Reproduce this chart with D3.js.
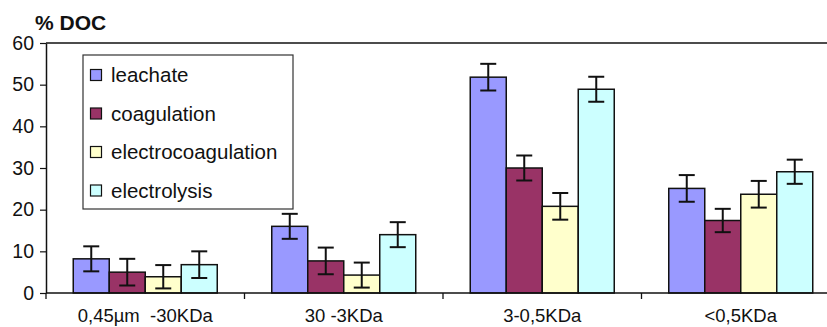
<html>
<head>
<script src="https://d3js.org/d3.v7.min.js"></script>
<style>
body { margin: 0; font-family: 'Liberation Sans', Arial, sans-serif; background: #fff; }
svg { display: block; }
</style>
</head>
<body>
<div id="chart"></div>
<script>
// fractions and treatments
var categories = ["0,45\u00b5m  -30KDa", "30 -3KDa", "3-0,5KDa", "<0,5KDa"];
var series = ["leachate", "coagulation", "electrocoagulation", "electrolysis"];
var colors = ["#9999ff", "#993366", "#ffffcc", "#ccffff"];

var leachate           = [8.2, 16.0, 51.8, 25.1];
var coagulation        = [5.0, 7.7, 30.0, 17.4];
var electrocoagulation = [3.9, 4.3, 20.8, 23.7];
var electrolysis       = [6.8, 14.0, 48.9, 29.1];

var leachateErr           = [3.0, 3.0, 3.2, 3.2];
var coagulationErr        = [3.2, 3.2, 3.0, 2.8];
var electrocoagulationErr = [2.8, 3.0, 3.2, 3.2];
var electrolysisErr       = [3.2, 3.0, 3.0, 2.9];

var yTicks = [0, 10, 20, 30, 40, 50, 60];

var values = [leachate, coagulation, electrocoagulation, electrolysis];
var errors = [leachateErr, coagulationErr, electrocoagulationErr, electrolysisErr];

var svg = d3.select("#chart").append("svg")
  .attr("width", 827).attr("height", 327);

// plot area (right edge runs past the picture, as in the original)
var pLeft = 46, pTop = 43, pBottom = 293, pRight = 840;

var x0 = d3.scaleBand().domain(categories).range([pLeft, pRight]);
var x1 = d3.scaleBand().domain(series).range([0, x0.bandwidth()]).paddingOuter(0.757);
var y = d3.scaleLinear().domain([0, 60]).range([pBottom, pTop]);

// top frame line
svg.append("line")
  .attr("x1", pLeft).attr("x2", pRight).attr("y1", pTop).attr("y2", pTop)
  .attr("stroke", "#111").attr("stroke-width", 1.5);

// y axis
var yAxis = svg.append("g")
  .attr("transform", "translate(" + pLeft + ",0)")
  .call(d3.axisLeft(y).tickValues(yTicks).tickSize(6).tickPadding(6).tickSizeOuter(0));
yAxis.select(".domain").attr("stroke", "#111").attr("stroke-width", 1.5);
yAxis.selectAll(".tick line").attr("stroke", "#111").attr("stroke-width", 1.2);
yAxis.selectAll(".tick text")
  .style("font-family", "'Liberation Sans', Arial, sans-serif")
  .style("font-size", "19.5px").attr("fill", "#111");

// bars
var groups = svg.selectAll(".grp")
  .data(categories)
  .enter().append("g")
  .attr("class", "grp")
  .attr("transform", function(d) { return "translate(" + x0(d) + ",0)"; });

groups.each(function(cat, ci) {
  var g = d3.select(this);
  series.forEach(function(s, si) {
    var v = values[si][ci], e = errors[si][ci];
    var bx = x1(s), bw = x1.bandwidth();
    g.append("rect")
      .attr("x", bx).attr("y", y(v))
      .attr("width", bw).attr("height", y(0) - y(v))
      .attr("fill", colors[si])
      .attr("stroke", "#111").attr("stroke-width", 1.5);
    var cx = bx + bw / 2;
    g.append("line")
      .attr("x1", cx).attr("x2", cx).attr("y1", y(v + e)).attr("y2", y(v - e))
      .attr("stroke", "#111").attr("stroke-width", 2);
    [v + e, v - e].forEach(function(t) {
      g.append("line")
        .attr("x1", cx - 8).attr("x2", cx + 8).attr("y1", y(t)).attr("y2", y(t))
        .attr("stroke", "#111").attr("stroke-width", 2);
    });
  });
});

// x axis with ticks between categories (first one is the y axis itself)
svg.append("line")
  .attr("x1", pLeft).attr("x2", pRight).attr("y1", pBottom).attr("y2", pBottom)
  .attr("stroke", "#111").attr("stroke-width", 1.5);
svg.selectAll(".ctick")
  .data(categories)
  .enter().append("line")
  .attr("x1", function(d) { return x0(d); }).attr("x2", function(d) { return x0(d); })
  .attr("y1", pBottom).attr("y2", pBottom + 6)
  .attr("stroke", "#111").attr("stroke-width", 1.3);
svg.selectAll(".clabel")
  .data(categories)
  .enter().append("text")
  .attr("x", function(d) { return x0(d) + x0.bandwidth() / 2; })
  .attr("y", 322)
  .attr("text-anchor", "middle")
  .style("font-size", "18.5px").attr("fill", "#111")
  .style("white-space", "pre")
  .text(function(d) { return d; });

// y title
svg.append("text")
  .attr("x", 35).attr("y", 30)
  .style("font-size", "21px").style("font-weight", "bold").attr("fill", "#111")
  .text("% DOC");

// legend
var leg = svg.append("g");
leg.append("rect")
  .attr("x", 83).attr("y", 55).attr("width", 210).attr("height", 154)
  .attr("fill", "#fff").attr("stroke", "#333").attr("stroke-width", 1.2);
series.forEach(function(s, i) {
  var cy = 75 + i * 38.5;
  leg.append("rect")
    .attr("x", 90.5).attr("y", cy - 5.5).attr("width", 11).attr("height", 11)
    .attr("fill", colors[i]).attr("stroke", "#111").attr("stroke-width", 1.2);
  leg.append("text")
    .attr("x", 111).attr("y", cy + 7)
    .style("font-size", "20.5px").attr("fill", "#111")
    .text(s);
});
</script>
</body>
</html>
